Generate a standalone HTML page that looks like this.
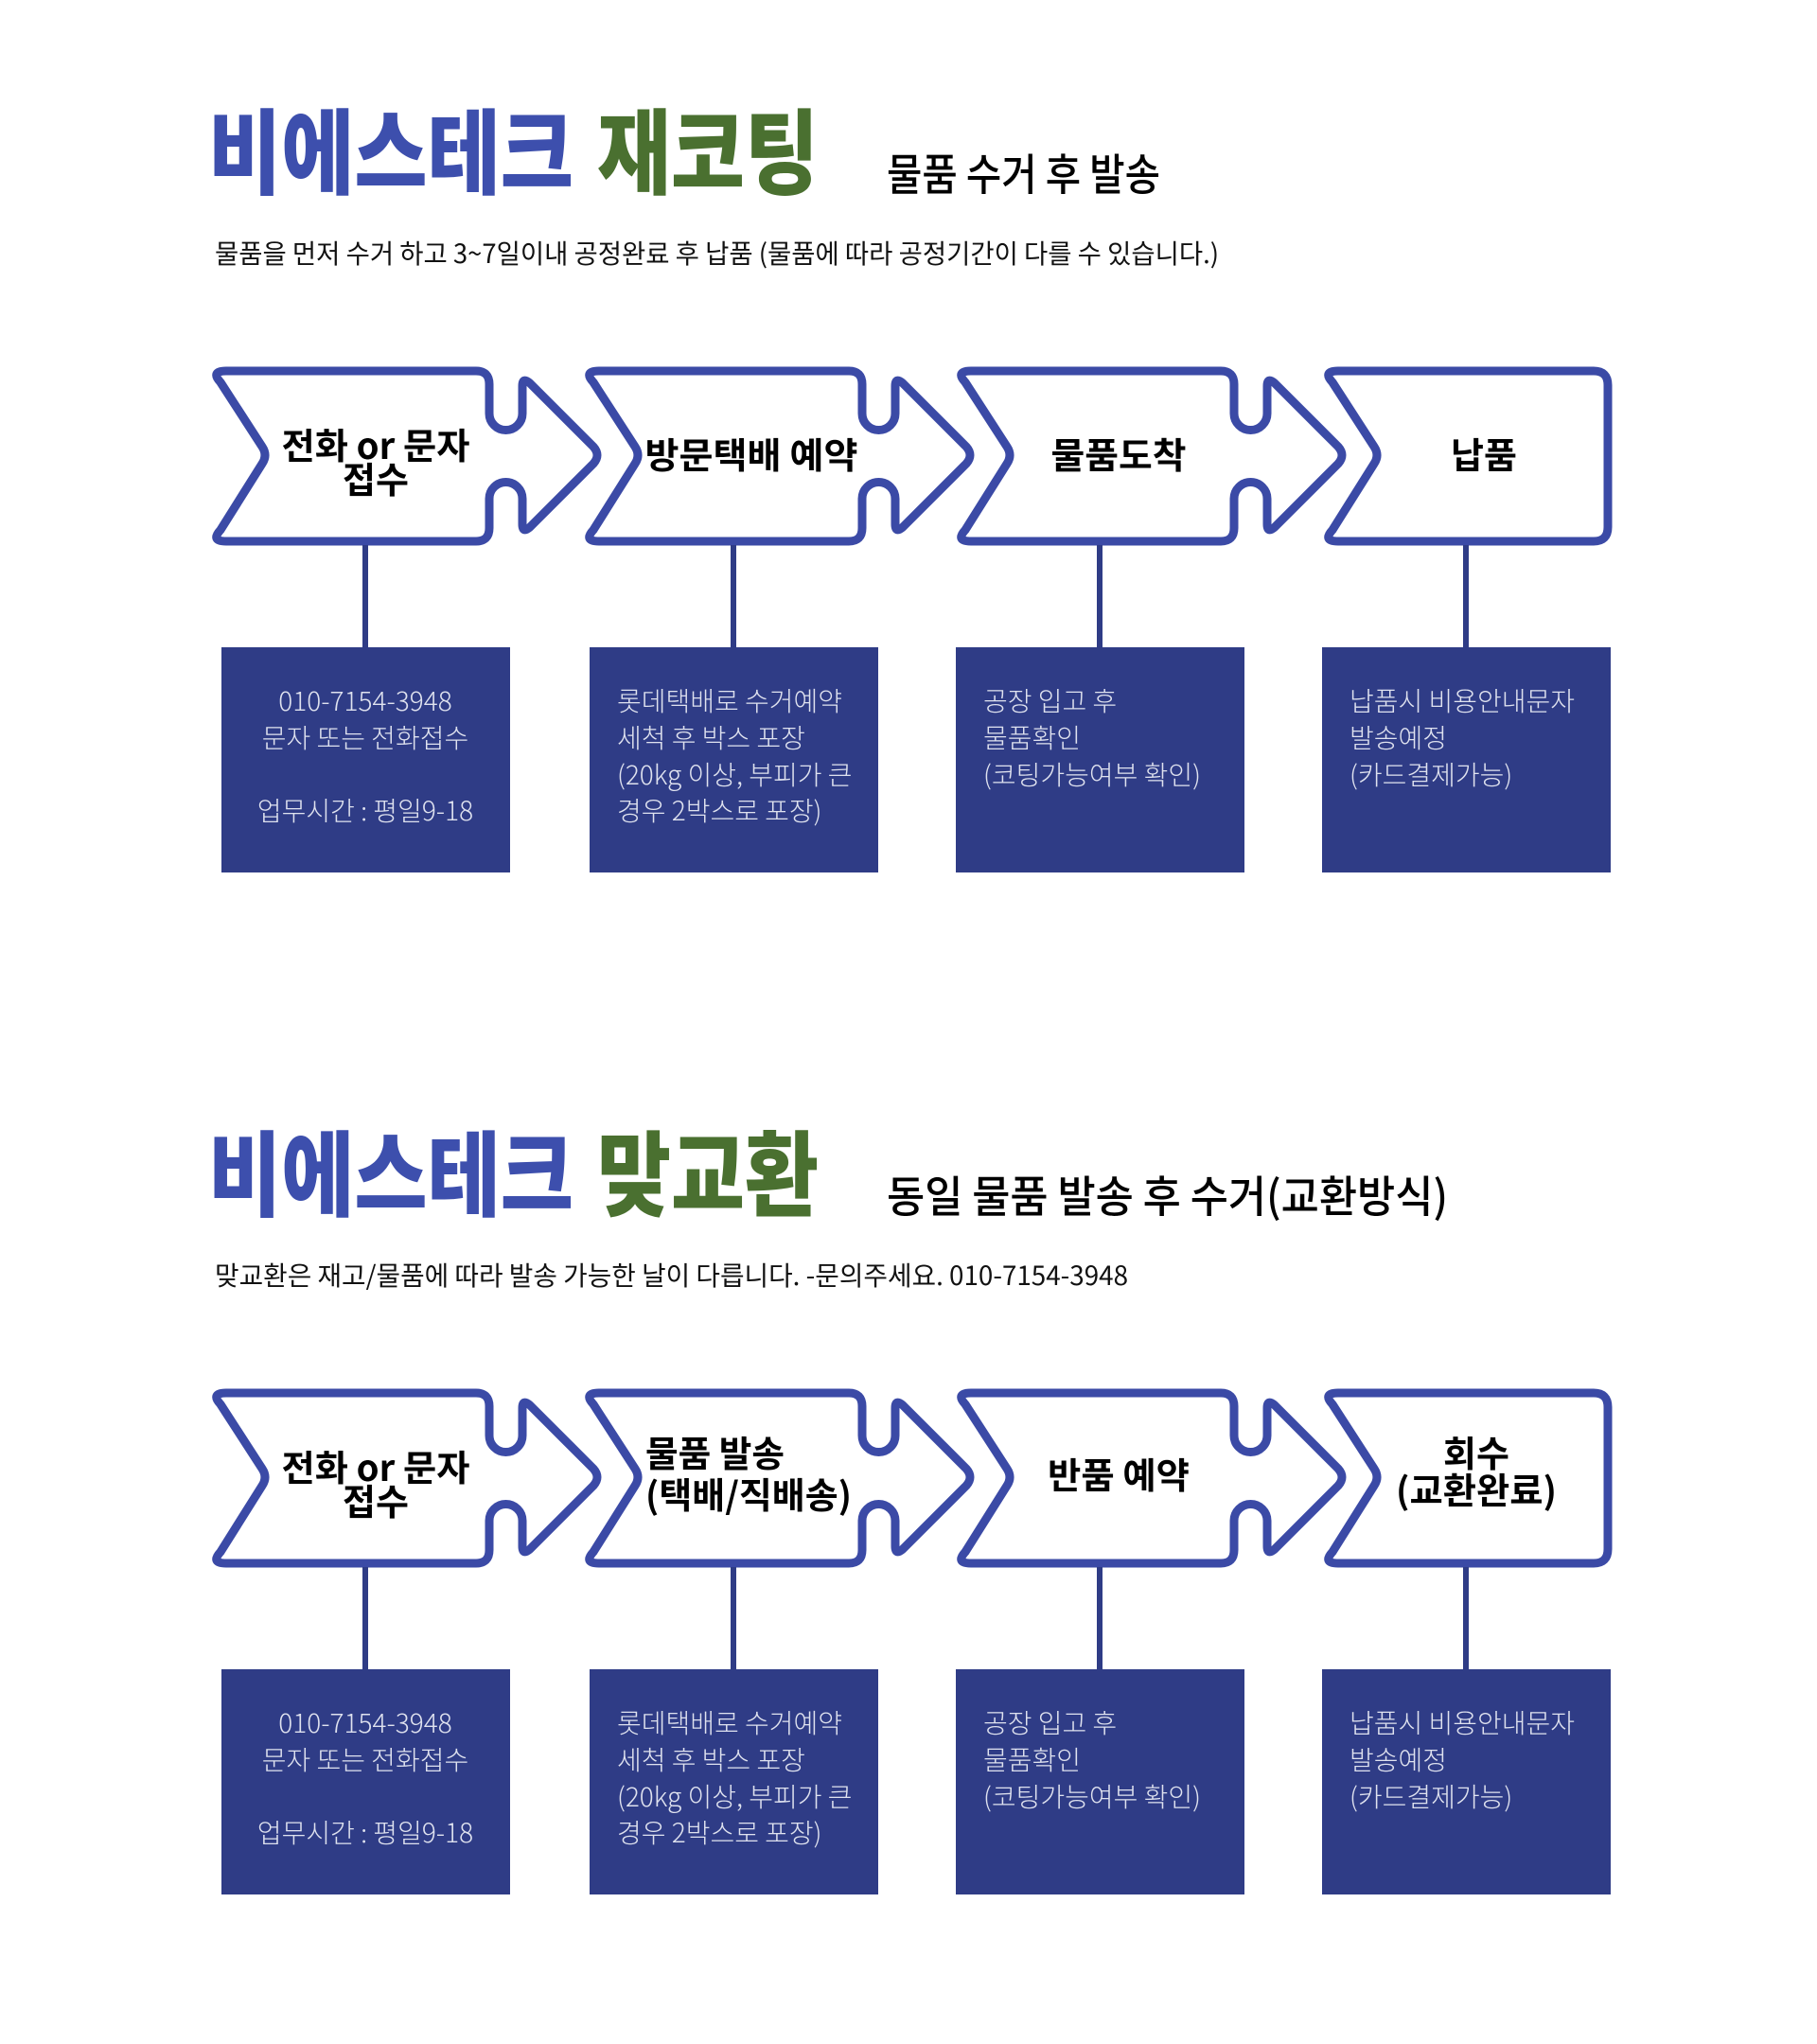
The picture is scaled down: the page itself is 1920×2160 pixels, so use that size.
<!DOCTYPE html>
<html><head><meta charset="utf-8"><style>
html,body{margin:0;padding:0;background:#fff;}
svg{display:block;font-family:"Liberation Sans","Noto Sans CJK KR",sans-serif;}
.t{font-family:"Noto Sans CJK KR",sans-serif;font-weight:900;}
.s{font-family:"Noto Sans CJK KR",sans-serif;font-weight:500;}
.d{font-family:"Noto Sans CJK KR",sans-serif;font-weight:400;}
.l{font-family:"Noto Sans CJK KR",sans-serif;font-weight:700;fill:#000;}
.b{font-family:"Noto Sans CJK KR",sans-serif;font-weight:300;fill:#dfe2ef;font-size:28px;}
.sh{fill:#fff;stroke:#3b4aa6;stroke-width:9;stroke-linejoin:round;}
</style></head><body>
<svg width="1920" height="2160" viewBox="0 0 1920 2160" xmlns="http://www.w3.org/2000/svg">
<defs>
<path id="arr" d="M239,392 H503 Q517,392 517,406 V437 A17.5 17.5 0 0 0 552,437 V408 Q552,398 560,405 L627,472 Q635,481 627,490 L560,557 Q552,564 552,554 V527 A17.5 17.5 0 0 0 517,527 V558 Q517,572 503,572 H239 Q222,572 233,560 L277,490 Q283,481 277,472 L233,404 Q222,392 239,392 Z"/>
<path id="end" d="M1414,392 H1684 Q1699,392 1699,407 V557 Q1699,572 1684,572 H1414 Q1397,572 1408,560 L1452,490 Q1458,481 1452,472 L1408,404 Q1397,392 1414,392 Z"/>
<g id="frame">
<use href="#arr" class="sh"/>
<use href="#arr" class="sh" transform="translate(394,0)"/>
<use href="#arr" class="sh" transform="translate(787,0)"/>
<use href="#end" class="sh"/>
<g stroke="#2f3c86" stroke-width="6">
<line x1="386" y1="576" x2="386" y2="686"/>
<line x1="775" y1="576" x2="775" y2="686"/>
<line x1="1162" y1="576" x2="1162" y2="686"/>
<line x1="1549" y1="576" x2="1549" y2="686"/>
</g>
<g fill="#2f3c86">
<rect x="234" y="684" width="305" height="238"/>
<rect x="623" y="684" width="305" height="238"/>
<rect x="1010" y="684" width="305" height="238"/>
<rect x="1397" y="684" width="305" height="238"/>
</g>
<g class="b">
<text x="386" y="751" text-anchor="middle">010-7154-3948</text>
<text x="386" y="790" text-anchor="middle">문자 또는 전화접수</text>
<text x="386" y="867" text-anchor="middle">업무시간 : 평일9-18</text>
<text x="652" y="751">롯데택배로 수거예약</text>
<text x="652" y="790">세척 후 박스 포장</text>
<text x="652" y="829">(20kg 이상, 부피가 큰</text>
<text x="652" y="867">경우 2박스로 포장)</text>
<text x="1039" y="751">공장 입고 후</text>
<text x="1039" y="790">물품확인</text>
<text x="1039" y="829">(코팅가능여부 확인)</text>
<text x="1426" y="751">납품시 비용안내문자</text>
<text x="1426" y="790">발송예정</text>
<text x="1426" y="829">(카드결제가능)</text>
</g>
</g>
</defs>

<!-- Section 1 -->
<text class="t" x="220" y="197" font-size="98" fill="#3d4fad" textLength="386" lengthAdjust="spacingAndGlyphs">비에스테크</text>
<text class="t" x="631" y="197" font-size="98" fill="#4a7030" textLength="234" lengthAdjust="spacingAndGlyphs">재코팅</text>
<text class="s" x="937" y="201" font-size="46" fill="#000" textLength="289" lengthAdjust="spacingAndGlyphs">물품 수거 후 발송</text>
<text class="d" x="227" y="278" font-size="28" fill="#111" textLength="1061" lengthAdjust="spacingAndGlyphs">물품을 먼저 수거 하고 3~7일이내 공정완료 후 납품 (물품에 따라 공정기간이 다를 수 있습니다.)</text>
<use href="#frame"/>
<text class="l" x="397" y="485" font-size="38" text-anchor="middle" textLength="199" lengthAdjust="spacingAndGlyphs">전화 or 문자</text>
<text class="l" x="397" y="521" font-size="38" text-anchor="middle">접수</text>
<text class="l" x="794" y="495" font-size="38" text-anchor="middle" textLength="225" lengthAdjust="spacingAndGlyphs">방문택배 예약</text>
<text class="l" x="1182" y="495" font-size="38" text-anchor="middle" textLength="143" lengthAdjust="spacingAndGlyphs">물품도착</text>
<text class="l" x="1568" y="495" font-size="38" text-anchor="middle">납품</text>

<!-- Section 2 -->
<text class="t" x="220" y="1277" font-size="98" fill="#3d4fad" textLength="386" lengthAdjust="spacingAndGlyphs">비에스테크</text>
<text class="t" x="631" y="1277" font-size="98" fill="#4a7030" textLength="234" lengthAdjust="spacingAndGlyphs">맞교환</text>
<text class="s" x="937" y="1281" font-size="46" fill="#000" textLength="593" lengthAdjust="spacingAndGlyphs">동일 물품 발송 후 수거(교환방식)</text>
<text class="d" x="227" y="1358" font-size="28" fill="#111" textLength="965" lengthAdjust="spacingAndGlyphs">맞교환은 재고/물품에 따라 발송 가능한 날이 다릅니다. -문의주세요. 010-7154-3948</text>
<use href="#frame" transform="translate(0,1080)"/>
<text class="l" x="397" y="1565" font-size="38" text-anchor="middle" textLength="199" lengthAdjust="spacingAndGlyphs">전화 or 문자</text>
<text class="l" x="397" y="1601" font-size="38" text-anchor="middle">접수</text>
<text class="l" x="682" y="1550" font-size="38" textLength="147" lengthAdjust="spacingAndGlyphs">물품 발송</text>
<text class="l" x="682" y="1594" font-size="38" textLength="218" lengthAdjust="spacingAndGlyphs">(택배/직배송)</text>
<text class="l" x="1182" y="1573" font-size="38" text-anchor="middle" textLength="150" lengthAdjust="spacingAndGlyphs">반품 예약</text>
<text class="l" x="1560" y="1550" font-size="38" text-anchor="middle">회수</text>
<text class="l" x="1560" y="1589" font-size="38" text-anchor="middle" textLength="170" lengthAdjust="spacingAndGlyphs">(교환완료)</text>
</svg>
</body></html>
